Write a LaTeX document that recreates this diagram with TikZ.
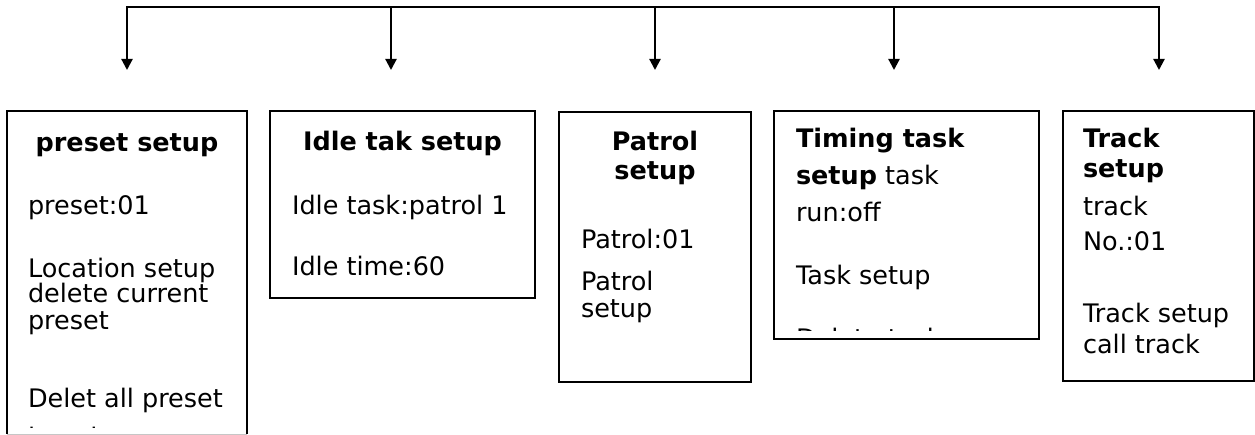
\documentclass[tikz,border=0pt]{standalone}
\usepackage{fontspec}
\setmainfont{DejaVu Sans}
\usetikzlibrary{arrows.meta}
\newcommand\menufont{\fontsize{25.5}{30}\selectfont}
\tikzset{
  panel/.style={draw=black, line width=2.4pt, rectangle, inner sep=0, outer sep=0, anchor=north west},
  head/.style={anchor=base, inner sep=0, outer sep=0, font=\menufont\bfseries},
  item/.style={anchor=base west, inner sep=0, outer sep=0, font=\menufont},
  bus/.style={line width=2.4pt, line cap=rect},
  feed/.style={line width=2.2pt, line cap=rect, -{Triangle[width=11pt,length=11pt]}}
}
\begin{document}
\begin{tikzpicture}[x=1pt,y=-1pt]
\useasboundingbox (0,0) rectangle (1255,435);

% menu panels
\node[panel, draw=none, minimum width=240pt, minimum height=323pt] (b1) at (7,111) {};
\draw[line width=2.4pt] (b1.south west) -- (b1.north west) -- (b1.north east) -- (b1.south east);
\draw[gray!45, line width=0.8pt] (b1.south west) -- (b1.south east);
\node[panel, minimum width=265pt, minimum height=187pt] (b2) at (270,111) {};
\node[panel, minimum width=192pt, minimum height=270pt] (b3) at (559,112) {};
\node[panel, minimum width=265pt, minimum height=228pt] (b4) at (774,111) {};
\node[panel, minimum width=191pt, minimum height=270pt] (b5) at (1063,111) {};

% distribution line and arrows
\coordinate (t1) at (127,7);  \coordinate (a1) at (127,70);
\coordinate (t2) at (391,7);  \coordinate (a2) at (391,70);
\coordinate (t3) at (655,7);  \coordinate (a3) at (655,70);
\coordinate (t4) at (894,7);  \coordinate (a4) at (894,70);
\coordinate (t5) at (1159,7); \coordinate (a5) at (1159,70);
\draw[bus] (t1) -- (t5);
\foreach \i in {1,...,5} { \draw[feed] (t\i) -- (a\i); }

% preset setup
\node[head] (h1) at (127,152) {preset setup};
\node[item] (p1a) at (28,215) {preset:01};
\node[item] (p1b) at (28,278) {Location setup};
\node[item] (p1c) at (28,303) {delete current};
\node[item] (p1d) at (28,330) {preset};
\node[item] (p1e) at (28,407) {Delet all preset};
\begin{scope}
  \clip (9,0) rectangle (245,427);
  \node[item] (p1f) at (28,446) {location};
\end{scope}

% idle task setup
\node[head] (h2) at (402.5,151) {Idle tak setup};
\node[item] (p2a) at (292,215) {Idle task:patrol 1};
\node[item] (p2b) at (292,276) {Idle time:60};

% patrol setup
\node[head] (h3a) at (655,151) {Patrol};
\node[head] (h3b) at (655,180) {setup};
\node[item] (p3a) at (581,249) {Patrol:01};
\node[item] (p3b) at (581,291) {Patrol};
\node[item] (p3c) at (581,318) {setup};

% timing task setup
\node[item, font=\menufont\bfseries] (h4) at (796,148) {Timing task};
\node[item] (p4a) at (796,185) {\textbf{setup} task};
\node[item] (p4b) at (796,222) {run:off};
\node[item] (p4c) at (796,285) {Task setup};
\begin{scope}
  \clip (776,0) rectangle (1037,331);
  \node[item] (p4d) at (796,348) {Delete task};
\end{scope}

% track setup
\node[item, font=\menufont\bfseries] (h5a) at (1083,148) {Track};
\node[item, font=\menufont\bfseries] (h5b) at (1083,178) {setup};
\node[item] (p5a) at (1083,216) {track};
\node[item] (p5b) at (1083,251) {No.:01};
\node[item] (p5c) at (1083,323) {Track setup};
\node[item] (p5d) at (1083,353) {call track};
\end{tikzpicture}
\end{document}
